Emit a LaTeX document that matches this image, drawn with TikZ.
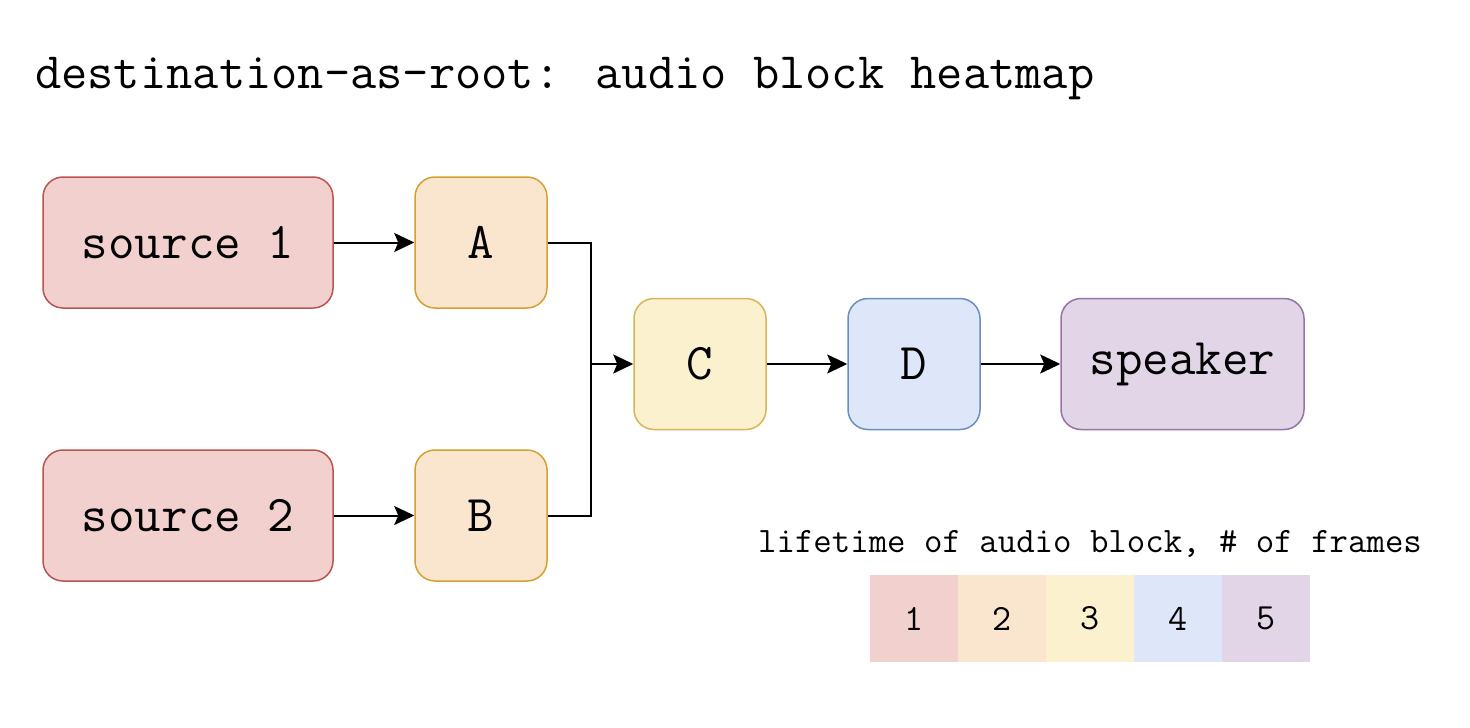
\documentclass[tikz,border=0pt]{standalone}
\usepackage{fontspec}
\usetikzlibrary{arrows.meta}

\definecolor{redfill}{HTML}{F2D0CE}
\definecolor{redline}{HTML}{B85450}
\definecolor{orangefill}{HTML}{FAE5CE}
\definecolor{orangeline}{HTML}{D6A030}
\definecolor{yellowfill}{HTML}{FCF1CF}
\definecolor{yellowline}{HTML}{D6B656}
\definecolor{bluefill}{HTML}{DEE7F9}
\definecolor{blueline}{HTML}{6C8EBF}
\definecolor{purplefill}{HTML}{E1D5E7}
\definecolor{purpleline}{HTML}{9673A6}

\begin{document}
\begin{tikzpicture}[x=1pt, y=-1pt, font=\ttfamily,
    block/.style={draw, line width=1.5pt, rounded corners=20pt, minimum height=131pt,
                  font=\ttfamily\fontsize{51.5}{56}\selectfont},
    smallblock/.style={block, minimum width=132pt},
    link/.style={line width=2pt, -{Stealth[length=20pt,width=19pt,inset=4pt]}},
    cell/.style={minimum width=88pt, minimum height=87pt, inner sep=0pt,
                 font=\ttfamily\fontsize{37}{40}\selectfont}]
    \useasboundingbox (0,0) rectangle (1470,728);

    \node[anchor=base west, inner sep=0pt, font=\ttfamily\fontsize{51}{56}\selectfont] (title) at (35,88)
        {destination-as-root: audio block heatmap};

    % sources and their blocks
    \node[block, minimum width=290pt, fill=redfill, draw=redline] (src1) at (188,242.5) {source 1};
    \node[block, minimum width=290pt, fill=redfill, draw=redline] (src2) at (188,515.5) {source 2};
    \node[smallblock, fill=orangefill, draw=orangeline] (A) at (481,242.5) {A};
    \node[smallblock, fill=orangefill, draw=orangeline] (B) at (481,515.5) {B};

    % mixing chain
    \node[smallblock, fill=yellowfill, draw=yellowline] (C) at (700,364) {C};
    \node[smallblock, fill=bluefill, draw=blueline] (D) at (914,364) {D};
    \node[block, minimum width=243pt, fill=purplefill, draw=purpleline] (spk) at (1182.5,364) {speaker};

    \coordinate (join) at (591,364);
    \draw[link] (src1) -- (A);
    \draw[link] (src2) -- (B);
    \draw[line width=2pt] (A.east) -| (join);
    \draw[line width=2pt] (B.east) -| (join);
    \draw[link] (join) -- (C);
    \draw[link] (C) -- (D);
    \draw[link] (D) -- (spk);

    % legend
    \node[anchor=base, font=\ttfamily\fontsize{35.8}{38}\selectfont] (legend) at (1090,552)
        {lifetime of audio block, \# of frames};
    \foreach \n/\col in {1/redfill, 2/orangefill, 3/yellowfill, 4/bluefill, 5/purplefill}
        \node[cell, fill=\col] (cell\n) at (826+88*\n,618.5) {\n};
\end{tikzpicture}
\end{document}
